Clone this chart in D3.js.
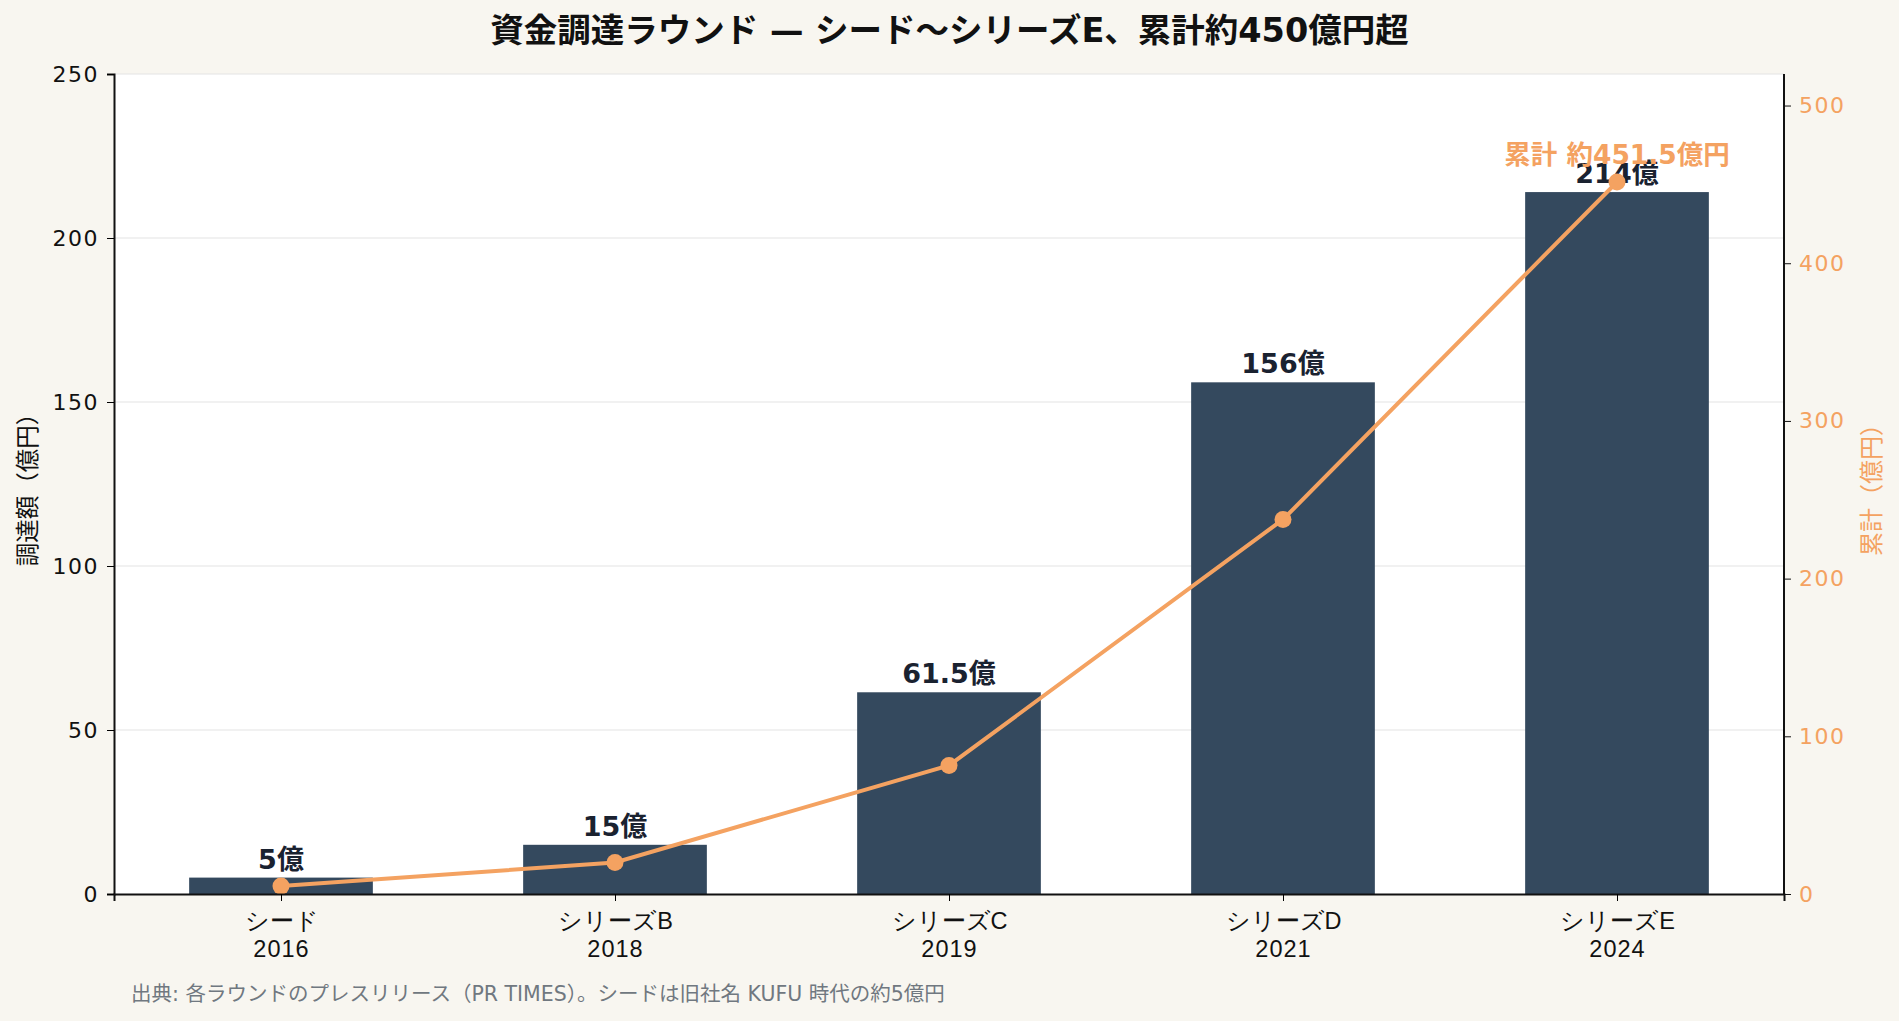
<!DOCTYPE html>
<html>
<head>
<meta charset="utf-8">
<script src="https://cdn.jsdelivr.net/npm/d3@7"></script>
<style>
  html, body { margin: 0; padding: 0; background: #f8f6f0; }
  svg { display: block; font-family: "DejaVu Sans", "Noto Sans CJK JP", sans-serif; }
</style>
</head>
<body>
<svg id="chart" width="1899" height="1021"></svg>
<script>
const rounds = ['シード', 'シリーズB', 'シリーズC', 'シリーズD', 'シリーズE'];
const years = ['2016', '2018', '2019', '2021', '2024'];
const amounts = [5, 15, 61.5, 156, 214];
const amountLabels = ['5億', '15億', '61.5億', '156億', '214億'];
const cumulative = [5, 20, 81.5, 237.5, 451.5];
const leftTicks = [0, 50, 100, 150, 200, 250];
const rightTicks = [0, 100, 200, 300, 400, 500];

const W = 1899, H = 1021;
const margin = {top: 74, right: 115, bottom: 127, left: 114};
const width = W - margin.left - margin.right
  , height = H - margin.top - margin.bottom;

const barColor = '#34495e';
const lineColor = '#f4a261';
const ink = '#1a2230';

const svg = d3.select('#chart');
const g = svg.append('g').attr('transform', `translate(${margin.left},${margin.top})`);

const x = d3.scalePoint().domain(d3.range(rounds.length)).range([0, width]).padding(0.5);
const step = x.step();
const barW = step * 0.55;
const y = d3.scaleLinear().domain([0, 250]).range([height, 0]);
const y2 = d3.scaleLinear().domain([0, 520]).range([height, 0]);

// plot background
g.append('rect').attr('width', width).attr('height', height).attr('fill', '#ffffff');

// grid
g.append('g')
  .selectAll('line')
  .data(leftTicks.filter(d => d > 0))
  .join('line')
  .attr('x1', 0).attr('x2', width)
  .attr('y1', d => y(d)).attr('y2', d => y(d))
  .attr('stroke', '#e4e4e4').attr('stroke-width', 1.2);

// bars
g.append('g')
  .selectAll('rect')
  .data(amounts)
  .join('rect')
  .attr('x', (d, i) => x(i) - barW / 2)
  .attr('y', d => y(d))
  .attr('width', barW)
  .attr('height', d => height - y(d))
  .attr('fill', barColor);

// bar labels
g.append('g')
  .selectAll('text')
  .data(amounts)
  .join('text')
  .attr('x', (d, i) => x(i))
  .attr('y', d => y(d) - 9)
  .attr('text-anchor', 'middle')
  .attr('fill', ink)
  .style('font-size', '27px')
  .style('font-weight', 700)
  .text((d, i) => amountLabels[i]);

// cumulative line
const line = d3.line().x((d, i) => x(i)).y(d => y2(d));
g.append('path')
  .datum(cumulative)
  .attr('d', line)
  .attr('fill', 'none')
  .attr('stroke', lineColor)
  .attr('stroke-width', 4);

g.append('g')
  .selectAll('circle')
  .data(cumulative)
  .join('circle')
  .attr('cx', (d, i) => x(i))
  .attr('cy', d => y2(d))
  .attr('r', 8.5)
  .attr('fill', lineColor);

// cumulative annotation
const last = cumulative.length - 1;
g.append('text')
  .attr('x', x(last))
  .attr('y', y2(cumulative[last]) - 18)
  .attr('text-anchor', 'middle')
  .attr('fill', lineColor)
  .style('font-size', '26.5px')
  .style('font-weight', 700)
  .text('累計 約' + cumulative[last] + '億円');

// axes
const yAxis = d3.axisLeft(y).tickValues(leftTicks).tickSizeOuter(0).tickSize(7).tickPadding(8);
const yAxisR = d3.axisRight(y2).tickValues(rightTicks).tickSizeOuter(0).tickSize(7).tickPadding(8);
const xAxis = d3.axisBottom(x).tickSizeOuter(0).tickSize(7).tickFormat(() => '');

const gl = g.append('g').call(yAxis);
gl.select('.domain').attr('stroke', '#111').attr('stroke-width', 2);
gl.selectAll('.tick text').attr('fill', '#111').style('font-size', '22px')
  .style('font-family', '"DejaVu Sans", sans-serif').style('letter-spacing', '1.5px');

const gr = g.append('g').attr('transform', `translate(${width},0)`).call(yAxisR);
gr.select('.domain').attr('stroke', '#111').attr('stroke-width', 2).attr('d', `M0,${height}V0`);
gr.selectAll('.tick line').attr('stroke', '#111');
gr.selectAll('.tick text').attr('fill', lineColor).style('font-size', '22px')
  .style('font-family', '"DejaVu Sans", sans-serif').style('letter-spacing', '1.5px');

const gx = g.append('g').attr('transform', `translate(0,${height})`).call(xAxis);
gx.select('.domain').attr('stroke', '#111').attr('stroke-width', 2);
gx.selectAll('.tick').each(function (d) {
  const t = d3.select(this).append('text')
    .attr('text-anchor', 'middle')
    .attr('fill', '#111')
    .style('font-size', '23.5px');
  t.append('tspan').attr('x', 0).attr('y', 35).text(rounds[d]);
  t.append('tspan').attr('x', 0).attr('y', 63).style('letter-spacing', '1px').text(years[d]);
});

// axis titles
svg.append('text')
  .attr('transform', `translate(36,${margin.top + height / 2}) rotate(-90)`)
  .attr('text-anchor', 'middle')
  .attr('fill', '#111')
  .style('font-size', '23.5px')
  .text('調達額（億円）');

svg.append('text')
  .attr('transform', `translate(1880,${margin.top + height / 2}) rotate(-90)`)
  .attr('text-anchor', 'middle')
  .attr('fill', lineColor)
  .style('font-size', '24px')
  .text('累計（億円）');

// title
svg.append('text')
  .attr('x', W / 2)
  .attr('y', 42)
  .attr('text-anchor', 'middle')
  .attr('fill', '#111')
  .style('font-size', '33.5px')
  .style('font-weight', 700)
  .text('資金調達ラウンド — シード〜シリーズE、累計約450億円超');

// source note
svg.append('text')
  .attr('x', 131)
  .attr('y', 1001)
  .attr('fill', '#707880')
  .style('font-size', '20.5px')
  .text('出典: 各ラウンドのプレスリリース（PR TIMES）。シードは旧社名 KUFU 時代の約5億円');
</script>
</body>
</html>
